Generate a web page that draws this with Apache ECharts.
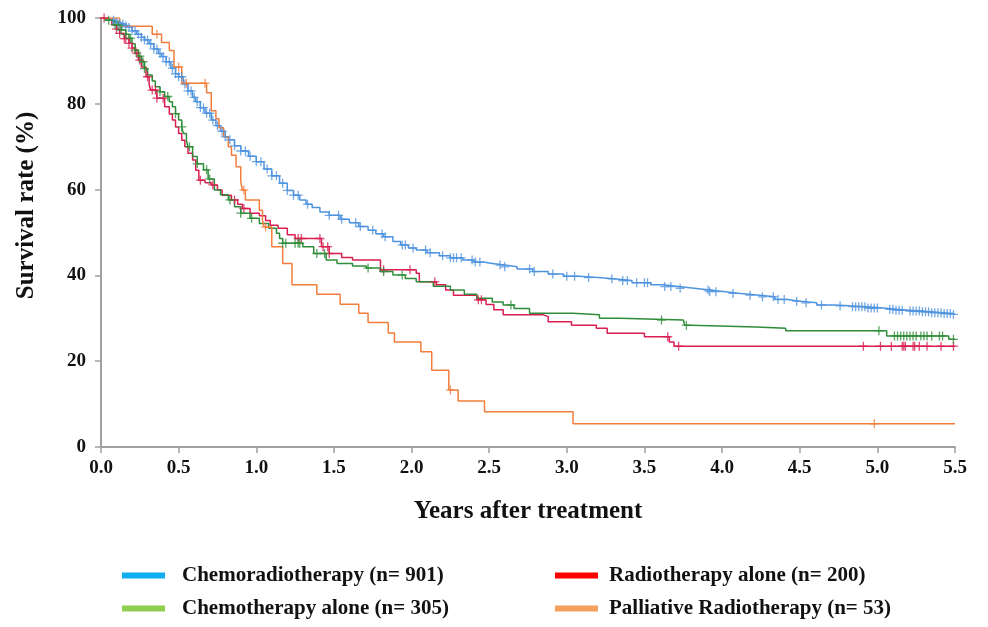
<!DOCTYPE html>
<html>
<head>
<meta charset="utf-8">
<title>Survival by treatment</title>
<script src="https://cdn.jsdelivr.net/npm/echarts@6/dist/echarts.min.js"></script>
<style>
  html, body { margin: 0; padding: 0; background: #fff; }
  #main { width: 988px; height: 627px; }
</style>
</head>
<body>
<div id="main"></div>
<script>
// Kaplan-Meier steps: [year, survival % after the drop at that year]
var chemoRadioSteps = [
  [0, 100], [0.04, 99.7], [0.06, 99.5], [0.09, 99.0], [0.12, 98.6], [0.15, 98.2], [0.17, 97.8],
  [0.2, 97.0], [0.23, 96.2], [0.26, 95.5], [0.28, 94.9], [0.31, 94.0], [0.34, 92.8], [0.37, 91.7],
  [0.39, 91.0], [0.42, 89.8], [0.45, 88.3], [0.48, 87.0], [0.5, 86.3], [0.53, 84.6], [0.56, 83.0],
  [0.59, 81.5], [0.61, 80.5], [0.64, 79.1], [0.67, 77.8], [0.71, 76.2], [0.74, 74.9], [0.77, 73.6],
  [0.8, 72.3], [0.82, 71.6], [0.86, 70.2], [0.9, 69.0], [0.95, 67.8], [1.0, 66.5], [1.05, 64.8],
  [1.1, 63.2], [1.15, 61.5], [1.2, 59.8], [1.24, 58.7], [1.28, 57.6], [1.32, 56.6], [1.36, 55.8],
  [1.41, 54.8], [1.47, 54.0], [1.54, 53.1], [1.6, 52.3], [1.66, 51.4], [1.72, 50.5], [1.77, 49.7],
  [1.82, 49.0], [1.88, 47.9], [1.93, 47.1], [1.98, 46.4], [2.03, 45.9], [2.1, 45.3], [2.18, 44.6],
  [2.25, 44.1], [2.33, 43.6], [2.4, 43.1], [2.46, 42.8], [2.52, 42.4], [2.6, 42.0], [2.68, 41.5],
  [2.78, 40.9], [2.88, 40.3], [2.98, 39.8], [3.08, 39.5], [3.2, 39.2], [3.3, 38.8], [3.42, 38.3],
  [3.54, 37.8], [3.62, 37.4], [3.72, 37.0], [3.82, 36.6], [3.92, 36.2], [4.02, 35.8], [4.12, 35.4],
  [4.24, 35.0], [4.34, 34.4], [4.42, 34.0], [4.5, 33.6], [4.61, 33.1], [4.72, 32.9], [4.82, 32.7],
  [4.93, 32.4], [5.04, 32.1], [5.12, 31.9], [5.2, 31.7], [5.28, 31.5], [5.35, 31.3], [5.42, 31.1],
  [5.49, 30.9], [5.5, 30.9]
];
var chemoRadioCensor = [
  0.08, 0.1, 0.12, 0.14, 0.16, 0.18, 0.2, 0.22, 0.24, 0.26, 0.28, 0.3, 0.32, 0.34, 0.36, 0.38, 0.4,
  0.42, 0.44, 0.46, 0.48, 0.5, 0.52, 0.54, 0.56, 0.58, 0.6, 0.62, 0.64, 0.66, 0.68, 0.7, 0.72, 0.75,
  0.78, 0.8, 0.83, 0.86, 0.9, 0.93, 0.96, 1.0, 1.03, 1.07, 1.1, 1.13, 1.17, 1.2, 1.24, 1.27,
  1.33, 1.47, 1.53, 1.55, 1.64, 1.67, 1.75, 1.81, 1.83, 1.94, 1.96, 2.01, 2.09, 2.12, 2.2, 2.25,
  2.27, 2.29, 2.32, 2.39, 2.41, 2.44, 2.57, 2.6, 2.76, 2.79, 2.91, 3.0, 3.05, 3.14, 3.29, 3.36,
  3.39, 3.45, 3.5, 3.52, 3.63, 3.67, 3.73, 3.91, 3.92, 3.96, 4.07, 4.18, 4.26, 4.33, 4.36, 4.4,
  4.48, 4.54, 4.64, 4.76, 4.84, 4.86, 4.88, 4.9, 4.92, 4.94, 4.96, 4.98, 5.0, 5.08, 5.1, 5.12,
  5.14, 5.16, 5.21, 5.23, 5.25, 5.27, 5.29, 5.31, 5.33, 5.35, 5.37, 5.39, 5.41, 5.43, 5.45, 5.47, 5.49
];

var radioSteps = [
  [0, 100], [0.03, 99.5], [0.07, 98.4], [0.1, 97.4], [0.12, 96.4], [0.15, 95.2], [0.18, 94.1],
  [0.2, 93.0], [0.22, 91.8], [0.24, 90.2], [0.26, 88.6], [0.29, 86.3], [0.31, 84.5], [0.32, 83.2],
  [0.36, 81.3], [0.41, 79.3], [0.44, 77.6], [0.46, 76.2], [0.48, 74.6], [0.5, 73.1], [0.52, 71.5],
  [0.54, 70.0], [0.56, 68.5], [0.59, 66.9], [0.61, 64.5], [0.63, 62.2], [0.67, 61.6], [0.71, 61.1],
  [0.75, 59.9], [0.78, 58.7], [0.84, 57.6], [0.88, 56.6], [0.91, 55.6], [0.96, 54.5], [1.02, 53.9],
  [1.06, 52.8], [1.09, 51.7], [1.14, 51.0], [1.2, 49.5], [1.25, 48.6], [1.42, 46.7], [1.47, 45.1],
  [1.55, 44.2], [1.62, 43.6], [1.8, 41.3], [2.03, 40.5], [2.05, 38.5], [2.16, 37.8], [2.22, 36.6],
  [2.27, 35.4], [2.42, 34.3], [2.48, 33.2], [2.53, 32.0], [2.59, 30.8], [2.85, 30.4], [2.88, 29.2],
  [3.03, 28.4], [3.19, 27.7], [3.26, 26.5], [3.5, 25.7], [3.66, 24.5], [3.69, 23.5], [5.5, 23.5]
];
var radioCensor = [
  0.02, 0.1, 0.12, 0.15, 0.16, 0.18, 0.2, 0.23, 0.25, 0.3, 0.33, 0.35, 0.36, 0.4, 0.64, 0.72,
  0.86, 0.92, 1.27, 1.29, 1.41, 1.43, 1.46, 1.47, 1.82, 1.99, 2.15, 2.43, 2.45, 3.65, 3.72,
  4.91, 5.02, 5.09, 5.16, 5.17, 5.18, 5.23, 5.24, 5.27, 5.32, 5.41, 5.49
];

var chemoSteps = [
  [0, 100], [0.03, 99.5], [0.08, 98.4], [0.13, 97.2], [0.16, 96.2], [0.18, 95.3], [0.2, 94.0],
  [0.22, 92.5], [0.24, 91.1], [0.26, 89.8], [0.28, 88.2], [0.3, 86.7], [0.33, 85.3], [0.35, 84.0],
  [0.38, 82.8], [0.41, 81.7], [0.44, 80.5], [0.46, 79.3], [0.48, 77.7], [0.5, 76.2], [0.52, 74.6],
  [0.53, 73.1], [0.55, 71.5], [0.56, 70.0], [0.59, 67.7], [0.62, 66.0], [0.66, 64.6], [0.69, 62.5],
  [0.73, 59.9], [0.77, 58.8], [0.82, 57.6], [0.86, 56.0], [0.9, 54.5], [0.96, 53.3], [1.02, 52.1],
  [1.08, 51.0], [1.13, 49.8], [1.15, 48.6], [1.17, 47.5], [1.3, 46.7], [1.37, 45.1], [1.45, 43.6],
  [1.52, 42.8], [1.62, 42.2], [1.71, 41.7], [1.8, 40.9], [1.88, 40.1], [1.96, 39.3], [2.03, 38.5],
  [2.14, 37.5], [2.25, 36.6], [2.34, 35.6], [2.42, 34.7], [2.52, 33.8], [2.59, 33.1], [2.66, 32.3],
  [2.76, 31.2], [3.04, 30.8], [3.21, 30.0], [3.34, 29.6], [3.75, 29.2], [3.76, 28.4], [3.8, 28.0],
  [4.22, 27.7], [4.41, 27.1], [5.06, 25.9], [5.46, 25.1], [5.5, 25.1]
];
var chemoCensor = [
  0.05, 0.09, 0.11, 0.13, 0.16, 0.19, 0.22, 0.25, 0.27, 0.28, 0.38, 0.43, 0.48, 0.52, 0.57, 0.62,
  0.68, 0.7, 0.83, 0.9, 0.97, 1.17, 1.19, 1.25, 1.27, 1.28, 1.39, 1.44, 1.72, 1.82, 1.94, 2.64,
  3.61, 3.77, 5.01, 5.11, 5.13, 5.15, 5.17, 5.19, 5.21, 5.23, 5.25, 5.28, 5.3, 5.32, 5.35, 5.4,
  5.42, 5.49
];

var palliativeSteps = [
  [0, 100], [0.12, 98.1], [0.33, 96.2], [0.39, 94.3], [0.44, 92.4], [0.47, 88.6], [0.52, 84.8],
  [0.68, 82.6], [0.71, 78.4], [0.74, 76.5], [0.76, 74.4], [0.79, 72.3], [0.82, 70.0], [0.84, 68.0],
  [0.87, 65.3], [0.9, 62.0], [0.91, 59.9], [0.93, 57.6], [1.02, 55.2], [1.04, 52.9], [1.05, 51.3],
  [1.1, 46.7], [1.17, 42.8], [1.23, 37.8], [1.39, 35.6], [1.54, 33.3], [1.66, 31.2], [1.72, 29.0],
  [1.85, 26.6], [1.89, 24.5], [2.06, 22.2], [2.13, 17.9], [2.24, 13.3], [2.3, 10.7], [2.47, 8.2],
  [3.04, 5.4], [5.5, 5.4]
];
var palliativeCensor = [0.36, 0.5, 0.55, 0.67, 0.92, 1.06, 2.25, 4.98];

var seriesNames = [
  'Chemoradiotherapy (n= 901)',
  'Radiotherapy alone (n= 200)',
  'Chemotherapy alone (n= 305)',
  'Palliative Radiotherapy (n= 53)'
];
var lineColors = ['#4f93de', '#d81e50', '#2f8d3a', '#f27d3c'];
var legendColors = ['#10aef0', '#ff0000', '#8fce4e', '#f6a05e'];

var fontFamily = "'Liberation Serif', 'Times New Roman', serif";

// survival value on the step curve at time t (where the censor mark sits)
function stepValue(steps, t) {
  var v = steps[0][1];
  for (var i = 0; i < steps.length; i++) {
    if (steps[i][0] <= t) v = steps[i][1];
  }
  return v;
}

function censorPoints(steps, times) {
  return times.map(function (t) { return [t, stepValue(steps, t)]; });
}

var plusSymbol = 'path://M0,5L10,5M5,0L5,10';

function kmSeries(name, steps, censor, color) {
  return [{
    name: name,
    type: 'line',
    step: 'end',
    data: steps,
    showSymbol: false,
    lineStyle: { width: 1.5, color: color },
    itemStyle: { color: color },
    z: 2
  }, {
    name: name,
    type: 'scatter',
    data: censorPoints(steps, censor),
    symbol: plusSymbol,
    symbolSize: 9,
    itemStyle: { color: 'none', borderColor: color, borderWidth: 1.3 },
    z: 3
  }];
}

var allSteps = [chemoRadioSteps, radioSteps, chemoSteps, palliativeSteps];
var allCensor = [chemoRadioCensor, radioCensor, chemoCensor, palliativeCensor];
var series = [];
for (var i = 0; i < 4; i++) {
  series = series.concat(kmSeries(seriesNames[i], allSteps[i], allCensor[i], lineColors[i]));
}

function legendItem(i) {
  return { name: seriesNames[i], icon: 'rect', itemStyle: { color: legendColors[i] } };
}

function legendText(gap) {
  return {
    fontFamily: fontFamily, fontWeight: 'bold', fontSize: 21, color: '#111',
    padding: [0, 0, 0, gap]
  };
}

var chart = echarts.init(document.getElementById('main'));
var option = {
  backgroundColor: '#fff',
  animation: false,
  grid: { left: 101, right: 33, top: 18, bottom: 180 },
  legend: [{
    data: [legendItem(0), legendItem(2)],
    orient: 'vertical',
    left: 117,
    top: 560,
    itemWidth: 43,
    itemHeight: 6,
    itemGap: 12,
    textStyle: legendText(12),
    selectedMode: false
  }, {
    data: [legendItem(1), legendItem(3)],
    orient: 'vertical',
    left: 550,
    top: 560,
    itemWidth: 43,
    itemHeight: 6,
    itemGap: 12,
    textStyle: legendText(6),
    selectedMode: false
  }],
  xAxis: {
    type: 'value',
    min: 0,
    max: 5.5,
    interval: 0.5,
    name: 'Years after treatment',
    nameLocation: 'middle',
    nameGap: 52,
    nameTextStyle: { fontFamily: fontFamily, fontWeight: 'bold', fontSize: 25, color: '#111' },
    axisLine: { lineStyle: { color: '#a0a0a0', width: 2 } },
    axisTick: { length: 6, lineStyle: { color: '#a0a0a0', width: 1.5 } },
    axisLabel: {
      margin: 12,
      fontFamily: fontFamily, fontWeight: 'bold', fontSize: 19, color: '#111',
      formatter: function (v) { return v.toFixed(1); }
    },
    splitLine: { show: false }
  },
  yAxis: {
    type: 'value',
    min: 0,
    max: 100,
    interval: 20,
    name: 'Survival rate (%)',
    nameLocation: 'middle',
    nameGap: 62,
    nameTextStyle: {
      fontFamily: fontFamily, fontWeight: 'bold', fontSize: 25, color: '#111',
      padding: [0, 0, 0, 54]
    },
    axisLine: { show: true, lineStyle: { color: '#a0a0a0', width: 2 } },
    axisTick: { show: true, length: 6, lineStyle: { color: '#a0a0a0', width: 1.5 } },
    axisLabel: { margin: 15, fontFamily: fontFamily, fontWeight: 'bold', fontSize: 19, color: '#111' },
    splitLine: { show: false }
  },
  series: series
};
chart.setOption(option);
</script>
</body>
</html>
